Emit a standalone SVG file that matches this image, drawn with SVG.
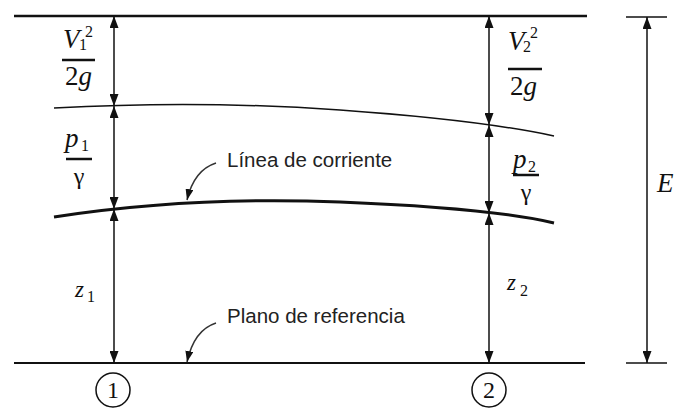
<svg xmlns="http://www.w3.org/2000/svg" width="678" height="408" viewBox="0 0 678 408">
<style>
.m{font-family:"Liberation Serif","Times New Roman",serif;fill:#111}
.i{font-style:italic}
.s{font-family:"Liberation Sans",Arial,sans-serif;font-size:20.5px;fill:#222}
.dim{stroke:#111;stroke-width:1.5;fill:none;marker-start:url(#ah);marker-end:url(#ah)}
.bar{stroke:#111;stroke-width:2.5}
.lead{stroke:#333;stroke-width:1.5;fill:none;marker-end:url(#la)}
</style>
<defs>
<marker id="ah" markerUnits="userSpaceOnUse" markerWidth="12" markerHeight="9" refX="12" refY="4.5" orient="auto-start-reverse">
<path d="M0,0 L12,4.5 L0,9 z" fill="#111"/>
</marker>
<marker id="la" markerUnits="userSpaceOnUse" markerWidth="11" markerHeight="8" refX="11" refY="4" orient="auto">
<path d="M0,0 L11,4 L0,8 z" fill="#111"/>
</marker>
</defs>
<g id="lines">
<line x1="14" y1="16" x2="587" y2="16" stroke="#111" stroke-width="2.5"/>
<line x1="14" y1="363" x2="585" y2="363" stroke="#111" stroke-width="2"/>
<path id="energy-line" d="M54,108 Q200,100 340,110 T554,136" fill="none" stroke="#111" stroke-width="1.5"/>
<path id="streamline" d="M54,217 Q190,196 340,202 T554,223" fill="none" stroke="#111" stroke-width="3"/>
<line x1="626" y1="17" x2="667" y2="17" stroke="#111" stroke-width="1.5"/>
<line x1="626" y1="363" x2="667" y2="363" stroke="#111" stroke-width="1.5"/>
</g>
<g id="connectors">
<line class="dim" x1="114" y1="16" x2="114" y2="106"/>
<line class="dim" x1="114" y1="106" x2="114" y2="209"/>
<line class="dim" x1="114" y1="209" x2="114" y2="363"/>
<line class="dim" x1="489" y1="16" x2="489" y2="125"/>
<line class="dim" x1="489" y1="125" x2="489" y2="213"/>
<line class="dim" x1="489" y1="213" x2="489" y2="363"/>
<line class="dim" x1="647" y1="17" x2="647" y2="363"/>
<path class="lead" d="M216,163 Q194,170 187,200"/>
<path class="lead" d="M216,323 Q194,330 187,362"/>
</g>
<g id="label-v1">
<text class="m i" x="63" y="48" font-size="27">V</text>
<text class="m" x="79" y="50" font-size="16">1</text>
<text class="m" x="85" y="37" font-size="16">2</text>
<line class="bar" x1="62" y1="60" x2="95" y2="60"/>
<text class="m" x="65" y="85" font-size="27">2<tspan class="i">g</tspan></text>
</g>
<g id="label-p1">
<text class="m i" x="65" y="147" font-size="27">p</text>
<text class="m" x="81" y="151" font-size="16">1</text>
<line class="bar" x1="66" y1="159" x2="92" y2="159"/>
<text class="m" x="79" y="184" font-size="24" text-anchor="middle">γ</text>
</g>
<g id="label-z1">
<text class="m i" x="75" y="297" font-size="23">z</text>
<text class="m" x="87" y="302" font-size="16">1</text>
</g>
<g id="label-v2">
<text class="m i" x="508" y="50" font-size="27">V</text>
<text class="m" x="523" y="52" font-size="16">2</text>
<text class="m" x="530" y="38" font-size="16">2</text>
<line class="bar" x1="508" y1="69" x2="542" y2="69"/>
<text class="m" x="510" y="95" font-size="27">2<tspan class="i">g</tspan></text>
</g>
<g id="label-p2">
<text class="m i" x="513" y="168" font-size="27">p</text>
<text class="m" x="528" y="172" font-size="16">2</text>
<line class="bar" x1="513" y1="175" x2="539" y2="175"/>
<text class="m" x="526" y="200" font-size="24" text-anchor="middle">γ</text>
</g>
<g id="label-z2">
<text class="m i" x="507" y="290" font-size="23">z</text>
<text class="m" x="520" y="296" font-size="16">2</text>
</g>
<g id="label-E">
<text class="m i" x="657" y="192" font-size="27">E</text>
</g>
<g id="label-linea">
<text class="s" x="227" y="167">Línea de corriente</text>
</g>
<g id="label-plano">
<text class="s" x="227" y="323">Plano de referencia</text>
</g>
<g id="section-1">
<circle cx="113" cy="390" r="17" fill="none" stroke="#111" stroke-width="1.5"/>
<text class="m" x="113" y="398" font-size="24" text-anchor="middle">1</text>
</g>
<g id="section-2">
<circle cx="489" cy="390" r="17" fill="none" stroke="#111" stroke-width="1.5"/>
<text class="m" x="489" y="398" font-size="24" text-anchor="middle">2</text>
</g>
</svg>
